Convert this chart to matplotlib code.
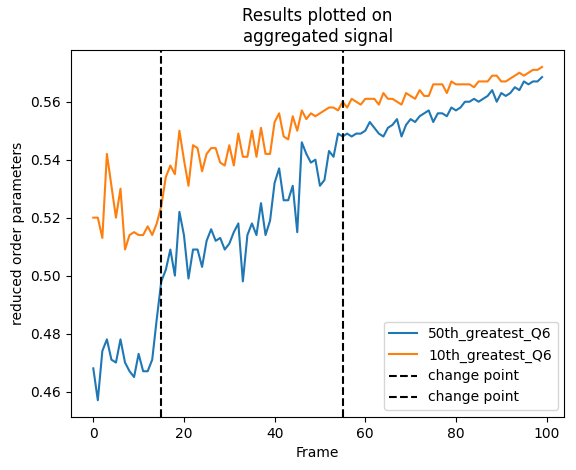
import numpy as np
import matplotlib
matplotlib.use("Agg")
import matplotlib.pyplot as plt

# values
q6_50th = [0.468, 0.457, 0.474, 0.478, 0.471, 0.470, 0.478, 0.470, 0.467, 0.465,
           0.473, 0.467, 0.467, 0.471, 0.485, 0.498, 0.502, 0.509, 0.500, 0.522,
           0.514, 0.499, 0.509, 0.509, 0.503, 0.512, 0.516, 0.512, 0.513, 0.509,
           0.511, 0.515, 0.518, 0.498, 0.514, 0.518, 0.514, 0.525, 0.514, 0.519,
           0.532, 0.537, 0.526, 0.526, 0.531, 0.515, 0.546, 0.542, 0.539, 0.540,
           0.531, 0.533, 0.543, 0.541, 0.549, 0.548, 0.549, 0.548, 0.549, 0.549,
           0.550, 0.553, 0.551, 0.549, 0.548, 0.551, 0.552, 0.554, 0.548, 0.552,
           0.554, 0.553, 0.555, 0.556, 0.557, 0.553, 0.556, 0.556, 0.555, 0.558,
           0.557, 0.558, 0.560, 0.560, 0.561, 0.560, 0.561, 0.562, 0.564, 0.560,
           0.563, 0.562, 0.563, 0.565, 0.564, 0.567, 0.566, 0.567, 0.567, 0.5685]

q6_10th = [0.520, 0.520, 0.513, 0.542, 0.531, 0.520, 0.530, 0.509, 0.514, 0.515,
           0.514, 0.514, 0.517, 0.514, 0.518, 0.524, 0.534, 0.538, 0.535, 0.550,
           0.540, 0.531, 0.545, 0.544, 0.536, 0.542, 0.544, 0.544, 0.539, 0.538,
           0.545, 0.538, 0.549, 0.541, 0.541, 0.550, 0.541, 0.551, 0.542, 0.542,
           0.553, 0.556, 0.548, 0.547, 0.555, 0.550, 0.557, 0.554, 0.556, 0.555,
           0.556, 0.557, 0.558, 0.558, 0.557, 0.560, 0.558, 0.561, 0.560, 0.559,
           0.561, 0.561, 0.561, 0.559, 0.563, 0.561, 0.561, 0.560, 0.559, 0.563,
           0.562, 0.561, 0.564, 0.562, 0.562, 0.566, 0.566, 0.566, 0.563, 0.567,
           0.566, 0.566, 0.566, 0.566, 0.565, 0.567, 0.567, 0.567, 0.569, 0.569,
           0.567, 0.567, 0.568, 0.569, 0.570, 0.569, 0.570, 0.571, 0.571, 0.572]

change_points = [15, 55]
frames = np.arange(len(q6_50th))

fig = plt.figure(figsize=(5.76, 4.7), dpi=100)
ax = fig.add_subplot(1, 1, 1)
fig.subplots_adjust(left=0.123, right=0.98, top=0.893, bottom=0.113)

ax.plot(frames, q6_50th, label="50th_greatest_Q6")
ax.plot(frames, q6_10th, label="10th_greatest_Q6")
for cp in change_points:
    ax.axvline(cp, color="k", linestyle="--", label="change point")

ax.set_title("Results plotted on\naggregated signal")
ax.set_xlabel("Frame")
ax.set_ylabel("reduced order parameters")
ax.legend(loc="lower right")

fig.savefig("out.png", dpi=100)
